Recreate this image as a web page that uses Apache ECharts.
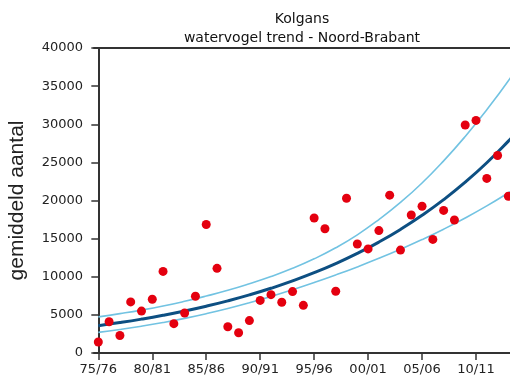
<!DOCTYPE html>
<html><head><meta charset="utf-8">
<script src="https://cdn.jsdelivr.net/npm/echarts@6/dist/echarts.min.js"></script>
<style>html,body{margin:0;padding:0;background:#fff}#c{width:510px;height:385px}</style>
</head><body><div id="c"></div>
<script>
const titleText = "Kolgans\nwatervogel trend - Noord-Brabant";
const yAxisName = "gemiddeld aantal";
const tickIndex = [0, 5, 10, 15, 20, 25, 30, 35];
const tickLabels = ["75/76","80/81","85/86","90/91","95/96","00/01","05/06","10/11"];
// observed counts per season index (0 = 75/76)
const counts = [1450,4100,2300,6700,5500,7050,10700,3850,5250,7450,
  16850,11100,3450,2650,4250,6900,7650,6650,8050,6250,
  17700,16300,8100,20300,14300,13650,16050,20700,13500,18100,
  19250,14900,18700,17450,29900,30500,22900,25900,20550];
// trend
const trendIdx = [0,2,4,6,8,10,12,14,16,18,20,22,24,26,28,30,32,34,36,38,39];
const trend = [3580,3988,4442,4948,5511,6139,6838,7617,8485,9451,10527,11726,13062,14549,16207,18052,20109,22399,24950,27791,29331];
const upper = [4736,5160,5625,6160,6780,7470,8220,9080,10020,11100,12350,13800,15500,17500,19750,22300,25200,28400,31900,35700,37900];
const lower = [2706,3084,3512,3996,4540,5152,5833,6586,7407,8293,9237,10237,11293,12412,13603,14873,16238,17709,19292,21010,21904];

const pair = (xs, ys) => xs.map((x, i) => [x, ys[i]]);
const chart = echarts.init(document.getElementById('c'), null, {renderer: 'canvas'});
const font = 'DejaVu Sans';
const axisCol = '#333';
chart.setOption({
  animation: false,
  backgroundColor: '#fff',
  title: {
    text: titleText, left: 297, top: 5, textAlign: 'center',
    textStyle: {fontFamily: font, fontSize: 14, fontWeight: 'normal', color: '#111', lineHeight: 19}
  },
  grid: {left: 94, top: 48, right: 0, bottom: 32, containLabel: false, outerBoundsMode: 'none'},
  xAxis: [{
    type: 'value', min: -0.4, max: 38.15, position: 'bottom',
    axisLine: {show: true, onZero: false, lineStyle: {color: axisCol, width: 2}},
    axisTick: {show: true, length: 7, customValues: tickIndex, lineStyle: {color: axisCol, width: 1.5}},
    axisLabel: {customValues: tickIndex, formatter: v => tickLabels[tickIndex.indexOf(v)] || '',
      fontFamily: font, fontSize: 13, color: '#222', margin: 10},
    splitLine: {show: false}
  }, {
    type: 'value', min: -0.4, max: 38.15, position: 'top',
    axisLine: {show: true, onZero: false, lineStyle: {color: axisCol, width: 2}},
    axisTick: {show: false}, axisLabel: {show: false}, splitLine: {show: false}
  }],
  yAxis: {
    type: 'value', min: 0, max: 40000, interval: 5000,
    name: yAxisName, nameLocation: 'middle', nameGap: 66, nameRotate: 90,
    nameTextStyle: {fontFamily: 'Liberation Sans', fontSize: 21, color: '#222'},
    axisLine: {show: true, lineStyle: {color: axisCol, width: 2}},
    axisTick: {show: true, length: 7, lineStyle: {color: axisCol, width: 1.5}},
    axisLabel: {fontFamily: font, fontSize: 13, color: '#222', margin: 11, formatter: v => String(v)},
    splitLine: {show: false}
  },
  series: [
    {type: 'line', data: pair(trendIdx, upper), smooth: true, symbol: 'none',
      lineStyle: {color: '#72c3e2', width: 1.6}, z: 2},
    {type: 'line', data: pair(trendIdx, lower), smooth: true, symbol: 'none',
      lineStyle: {color: '#72c3e2', width: 1.6}, z: 2},
    {type: 'line', data: pair(trendIdx, trend), smooth: true, symbol: 'none',
      lineStyle: {color: '#0d4f82', width: 3}, z: 3},
    {type: 'scatter', data: counts.map((v, i) => [i, v]), symbol: 'circle', symbolSize: 9,
      itemStyle: {color: '#e4000f', opacity: 1}, z: 4}
  ]
});
</script></body></html>
